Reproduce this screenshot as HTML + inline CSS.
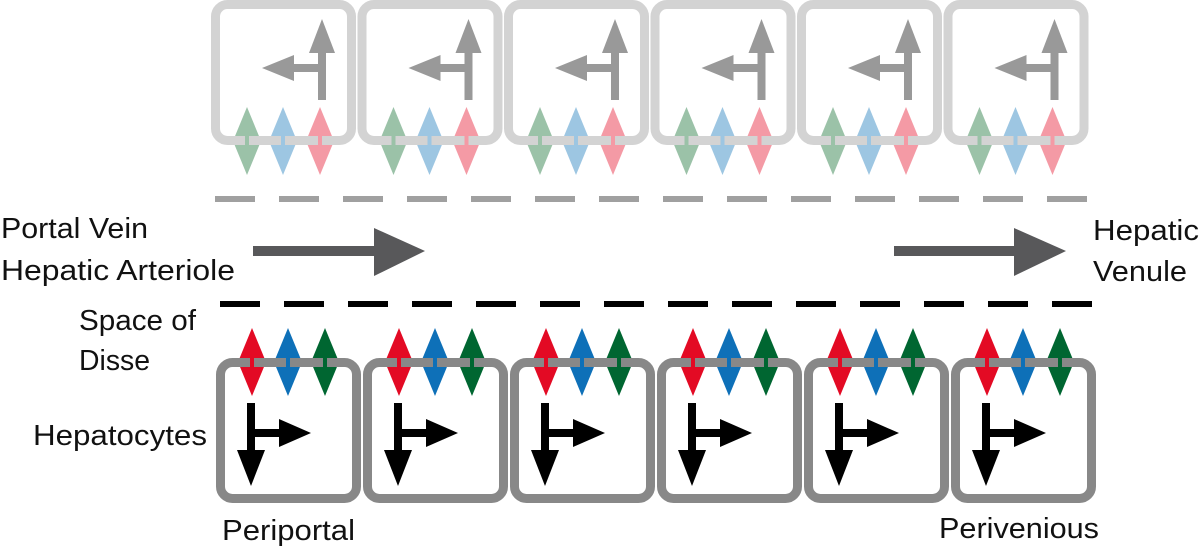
<!DOCTYPE html>
<html><head><meta charset="utf-8"><style>
html,body{margin:0;padding:0;background:#fff;width:1200px;height:551px;overflow:hidden}
text{font-family:"Liberation Sans",sans-serif;font-size:29px;fill:#111}
</style></head><body>
<svg id="d" width="1200" height="551" viewBox="0 0 1200 551" xmlns="http://www.w3.org/2000/svg">
<g id="toprow"></g>
<g id="botrow"></g>
<line x1="215" y1="199" x2="1090" y2="199" stroke="#a0a0a0" stroke-width="6" stroke-dasharray="40 24"/>
<line x1="220" y1="304" x2="1095" y2="304" stroke="#000" stroke-width="6" stroke-dasharray="40 24"/>
<g fill="#58585a">
<rect x="253" y="246" width="124" height="10"/><polygon points="374,228 425,251 374,276"/></g>
<g fill="#58585a">
<rect x="894" y="246" width="124" height="10"/><polygon points="1014,228 1066,251 1014,276"/></g>
<text x="1" y="238" textLength="147" lengthAdjust="spacingAndGlyphs">Portal Vein</text>
<text x="1" y="280" textLength="234" lengthAdjust="spacingAndGlyphs">Hepatic Arteriole</text>
<text x="79" y="330" textLength="117" lengthAdjust="spacingAndGlyphs">Space of</text>
<text x="79" y="370" textLength="71" lengthAdjust="spacingAndGlyphs">Disse</text>
<text x="33" y="445" textLength="174" lengthAdjust="spacingAndGlyphs">Hepatocytes</text>
<text x="222" y="540" textLength="133" lengthAdjust="spacingAndGlyphs">Periportal</text>
<text x="939" y="538" textLength="160" lengthAdjust="spacingAndGlyphs">Perivenious</text>
<text x="1093" y="240" textLength="106" lengthAdjust="spacingAndGlyphs">Hepatic</text>
<text x="1093" y="281" textLength="94" lengthAdjust="spacingAndGlyphs">Venule</text>
</svg>
<script>
const topCells=[0,1,2,3,4,5];
const botCells=[0,1,2,3,4,5];
const NS='http://www.w3.org/2000/svg';
function mk(p,t,a){const e=document.createElementNS(NS,t);for(const k in a)e.setAttribute(k,a[k]);p.appendChild(e);return e;}
const topRow=document.getElementById('toprow'),botRow=document.getElementById('botrow');
topCells.forEach(i=>{
 const ox=211+i*146.5;
 const g=mk(topRow,'g',{});
 
 
 const cols=['#9bc2a8','#9dc6e2','#f49aa5'];
 [36,72,109].forEach((dx,j)=>mk(g,'polygon',{points:`${ox+dx},107 ${ox+dx+14},141 ${ox+dx},175 ${ox+dx-14},141`,fill:cols[j]}));
 mk(g,'rect',{x:ox+4.5,y:4.5,width:136,height:136,rx:12,fill:'none',stroke:'#d3d3d3','stroke-width':9});
 [36,72,109].forEach((dx,j)=>mk(g,'rect',{x:ox+dx-2,y:136,width:4,height:10,fill:cols[j]}));
 mk(g,'rect',{x:ox+107,y:50,width:8,height:50,fill:'#999'});
 mk(g,'polygon',{points:`${ox+98},53 ${ox+111},19 ${ox+124},53`,fill:'#999'});
 mk(g,'rect',{x:ox+80,y:64,width:33,height:8,fill:'#999'});
 mk(g,'polygon',{points:`${ox+83},55 ${ox+51},68 ${ox+83},81`,fill:'#999'});
});
botCells.forEach(i=>{
 const ox=216+i*147;
 const g=mk(botRow,'g',{});
 
 
 const cols=['#e30a24','#0e70b8','#006631'];
 [36,72,109].forEach((dx,j)=>mk(g,'polygon',{points:`${ox+dx},328 ${ox+dx+14},362 ${ox+dx},396 ${ox+dx-14},362`,fill:cols[j]}));
 mk(g,'rect',{x:ox+4.5,y:362.5,width:136,height:136,rx:12,fill:'none',stroke:'#888','stroke-width':9});
 [36,72,109].forEach((dx,j)=>mk(g,'rect',{x:ox+dx-2,y:357,width:4,height:11,fill:cols[j]}));
 mk(g,'rect',{x:ox+31,y:403,width:8,height:50,fill:'#000'});
 mk(g,'polygon',{points:`${ox+21},450 ${ox+49},450 ${ox+35},486`,fill:'#000'});
 mk(g,'rect',{x:ox+31,y:429,width:35,height:8,fill:'#000'});
 mk(g,'polygon',{points:`${ox+63},419 ${ox+95},433 ${ox+63},447`,fill:'#000'});
});
</script>
</body></html>
